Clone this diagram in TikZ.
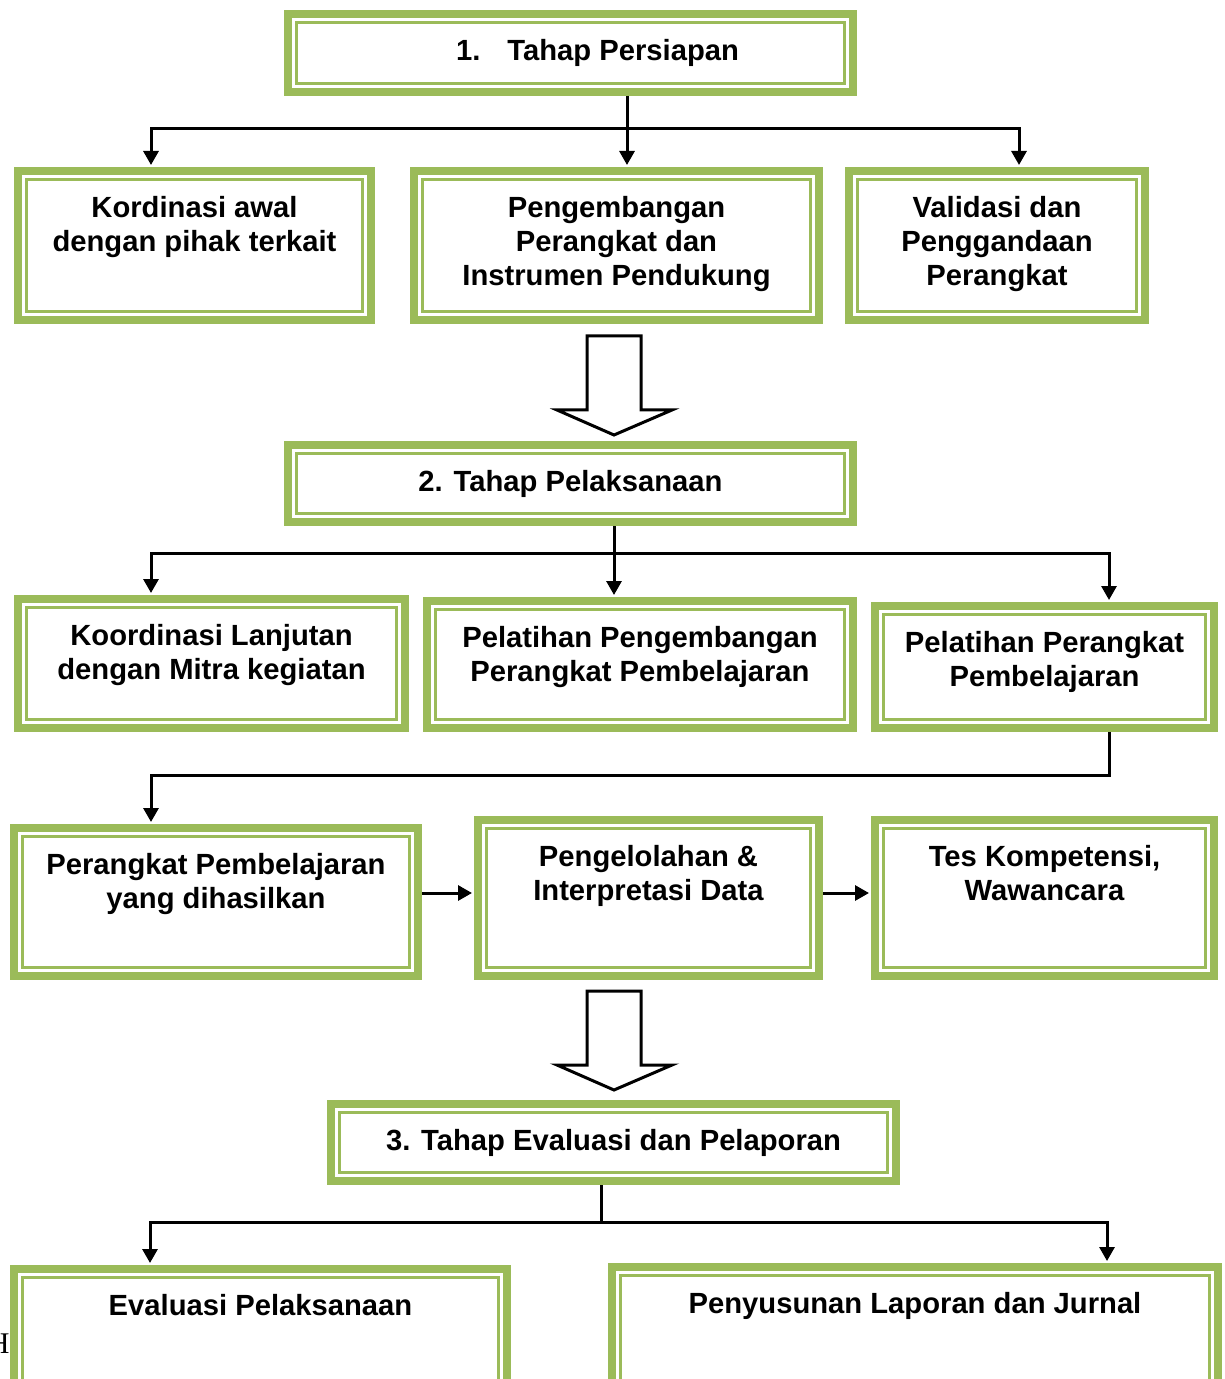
\documentclass[tikz,border=0pt]{standalone}
\usepackage{fontspec}
\setmainfont{Liberation Sans}
\newfontfamily\serifH{Liberation Serif}
\usetikzlibrary{arrows.meta}
\definecolor{boxgreen}{HTML}{9BBB59}
\tikzset{>={Triangle[width=7.5pt,length=7pt]}}
\tikzset{
  gbox/.style={draw=boxgreen, line width=4pt, fill=white, inner sep=0pt,
    path picture={\draw[boxgreen,line width=1.4pt]
      ([shift={(4.25pt,-4.25pt)}]path picture bounding box.north west) rectangle
      ([shift={(-4.25pt,4.25pt)}]path picture bounding box.south east);}},
  btext/.style={anchor=north, yshift=-14.3pt, inner sep=0pt, align=center,
    font=\bfseries\fontsize{14.6}{17}\selectfont},
  conn/.style={line width=1.5pt, shorten >=1pt},
  hollow/.style={line width=1.5pt, fill=white, line join=miter},
}

\begin{document}
\begin{tikzpicture}[x=0.5pt,y=-0.5pt]
\useasboundingbox (0,0) rectangle (1224,1379);

% tahap persiapan
\node[gbox,minimum width=282.5pt,minimum height=39pt,
  label={[btext,xshift=13.5pt]north:{1.\hspace{13.5pt}Tahap Persiapan}}] (tahap1) at (570.5,53) {};
\node[gbox,minimum width=176.5pt,minimum height=74.5pt,
  label={[btext]north:{Kordinasi awal\\dengan pihak terkait}}] (kord) at (194.5,245.5) {};
\node[gbox,minimum width=202.5pt,minimum height=74.5pt,
  label={[btext]north:{Pengembangan\\Perangkat dan\\Instrumen Pendukung}}] (peng) at (616.5,245.5) {};
\node[gbox,minimum width=148pt,minimum height=74.5pt,
  label={[btext]north:{Validasi dan\\Penggandaan\\Perangkat}}] (vali) at (997,245.5) {};

\coordinate (b1l) at (151,129);
\coordinate (b1m) at (627,129);
\coordinate (b1r) at (1019,129);
\draw[conn,->] (tahap1.south -| b1m) -- (peng.north -| b1m);
\draw[conn,<->,shorten <=1pt] (kord.north -| b1l) -- (b1l) -- (b1r) -- (vali.north -| b1r);

% tahap pelaksanaan
\node[gbox,minimum width=282.5pt,minimum height=38.5pt,
  label={[btext]north:{2. Tahap Pelaksanaan}}] (tahap2) at (570.5,483.5) {};
\node[gbox,minimum width=193.5pt,minimum height=64.5pt,
  label={[btext]north:{Koordinasi Lanjutan\\dengan Mitra kegiatan}}] (lanjut) at (211.5,663.5) {};
\node[gbox,minimum width=213pt,minimum height=63.5pt,
  label={[btext]north:{Pelatihan Pengembangan\\Perangkat Pembelajaran}}] (latpeng) at (640,664.5) {};
\node[gbox,minimum width=169.5pt,minimum height=61pt,
  label={[btext]north:{Pelatihan Perangkat\\Pembelajaran}}] (latperang) at (1044.5,667) {};

\coordinate (b2l) at (151,553);
\coordinate (b2m) at (614,553);
\coordinate (b2r) at (1109,553);
\draw[conn,->] (tahap2.south -| b2m) -- (latpeng.north -| b2m);
\draw[conn,<->,shorten <=1pt] (lanjut.north -| b2l) -- (b2l) -- (b2r) -- (latperang.north -| b2r);

\node[gbox,minimum width=202pt,minimum height=74pt,
  label={[btext]north:{Perangkat Pembelajaran\\yang dihasilkan}}] (hasil) at (216,902) {};
\node[gbox,minimum width=170.5pt,minimum height=78pt,
  label={[btext]north:{Pengelolahan \&\\Interpretasi Data}}] (olah) at (648.5,898) {};
\node[gbox,minimum width=169.5pt,minimum height=78pt,
  label={[btext]north:{Tes Kompetensi,\\Wawancara}}] (tes) at (1044.5,898) {};

\coordinate (b3r) at (1109,775);
\coordinate (b3l) at (151,775);
\draw[conn,->] (latperang.south -| b3r) -- (b3r) -- (b3l) -- (hasil.north -| b3l);
\coordinate (r3) at (0,893);
\draw[conn,->] (hasil.east |- r3) -- (olah.west |- r3);
\draw[conn,->] (olah.east |- r3) -- (tes.west |- r3);

% big hollow arrows
\foreach \y in {336,991}
  \draw[hollow] (587,\y) -- ++(54,0) -- ++(0,74) -- ++(31,0) -- (614,\y+99)
    -- (557,\y+74) -- (587,\y+74) -- cycle;

% tahap evaluasi
\node[gbox,minimum width=282.5pt,minimum height=38.5pt,
  label={[btext]north:{3. Tahap Evaluasi dan Pelaporan}}] (tahap3) at (613.5,1142.5) {};
\node[gbox,minimum width=246.5pt,minimum height=63.5pt,
  label={[btext]north:{Evaluasi Pelaksanaan}}] (eval) at (260.5,1332.5) {};
\node[gbox,minimum width=303pt,minimum height=64.5pt,
  label={[btext]north:{Penyusunan Laporan dan Jurnal}}] (susun) at (915,1331.5) {};

\coordinate (b4l) at (150,1222);
\coordinate (b4m) at (601,1222);
\coordinate (b4r) at (1107,1222);
\draw[line width=1.5pt] (tahap3.south -| b4m) -- (b4m);
\draw[conn,<->,shorten <=1pt] (eval.north -| b4l) -- (b4l) -- (b4r) -- (susun.north -| b4r);

\node[font=\serifH\fontsize{15}{15}\selectfont,anchor=base east,inner sep=0pt] (stray) at (10,1353) {H};
\end{tikzpicture}
\end{document}
